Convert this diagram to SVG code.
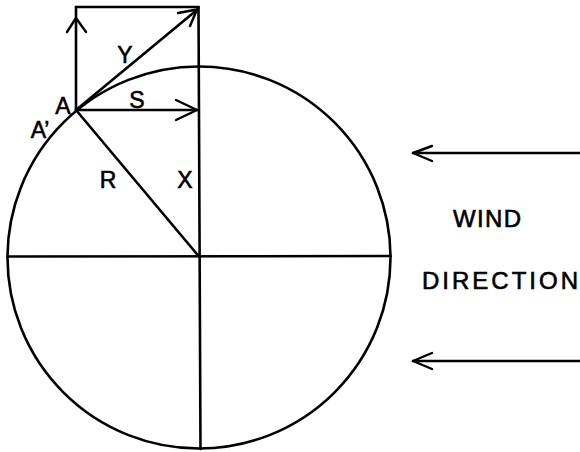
<svg xmlns="http://www.w3.org/2000/svg" width="580" height="452" viewBox="0 0 580 452">
<style>
.ln{fill:none;stroke:#000;stroke-width:2.6;stroke-linecap:round;stroke-linejoin:round}
.hd{fill:none;stroke:#000;stroke-width:2.4;stroke-linecap:round;stroke-linejoin:round}
.lb{font-family:"Liberation Sans",Arial,sans-serif;font-size:23px;fill:#000;stroke:#000;stroke-width:0.6}
.wd{font-family:"Liberation Sans",Arial,sans-serif;font-size:24px;fill:#000;stroke:#000;stroke-width:0.6}
</style>
<rect width="580" height="452" fill="#fff"/>
<g id="circle">
<ellipse class="ln" cx="199" cy="257.5" rx="191.5" ry="191"/>
</g>
<g id="connectors">
<line class="ln" x1="7.5" y1="256.5" x2="390.5" y2="256"/>
<line class="ln" x1="198.5" y1="7" x2="200.5" y2="449"/>
<line class="ln" x1="76" y1="7" x2="198.5" y2="7"/>
<line class="ln" x1="76" y1="7" x2="76" y2="110"/>
<polyline class="hd" points="67,32 76,18 86,32"/>
<line class="ln" x1="76" y1="110" x2="198" y2="9"/>
<polyline class="hd" points="178,13 197,9.5 190,26"/>
<line class="ln" x1="76" y1="110" x2="198.5" y2="110"/>
<polyline class="hd" points="176,100 197,110 176,120"/>
<line class="ln" x1="76" y1="110" x2="199" y2="256.5"/>
<line class="ln" x1="413" y1="153" x2="580" y2="153"/>
<polyline class="hd" points="432,146 413,153 432,161"/>
<line class="ln" x1="413" y1="361" x2="580" y2="361"/>
<polyline class="hd" points="432,353 413,361 432,369"/>
</g>
<g id="labels">
<text class="lb" x="125" y="63" text-anchor="middle">Y</text>
<text class="lb" x="137" y="108" text-anchor="middle">S</text>
<text class="lb" x="63" y="114" text-anchor="middle">A</text>
<text class="lb" x="40" y="138" text-anchor="middle">A’</text>
<text class="lb" x="108" y="188" text-anchor="middle">R</text>
<text class="lb" x="185" y="188" text-anchor="middle">X</text>
</g>
<g id="wind">
<text class="wd" x="453" y="227" textLength="68" lengthAdjust="spacing">WIND</text>
<text class="wd" x="422" y="289" textLength="156" lengthAdjust="spacing">DIRECTION</text>
</g>
</svg>
